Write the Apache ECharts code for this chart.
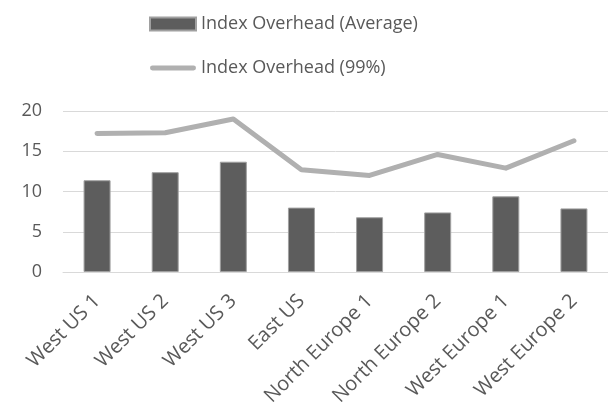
<!DOCTYPE html>
<html>
<head>
<meta charset="utf-8">
<script src="https://cdn.jsdelivr.net/npm/echarts@6/dist/echarts.min.js"></script>
<style>
  html,body{margin:0;padding:0;background:#fff;}
  #chartsBox{width:608px;height:410px;}
</style>
</head>
<body>
<div id="chartsBox"></div>
<script>
var regions = ['West US 1','West US 2','West US 3','East US','North Europe 1','North Europe 2','West Europe 1','West Europe 2'];
var avgData = [11.4, 12.4, 13.7, 8.0, 6.8, 7.4, 9.4, 7.9];
var p99Data = [17.2, 17.3, 19.0, 12.7, 12.0, 14.6, 12.9, 16.3];
var yTicks = [0, 5, 10, 15, 20];

var fontName = '"Open Sans", sans-serif';
var textColor = '#595959';
//图例里的粗线
var lineIcon = 'path://M2.5,0 H44.5 A2.5,2.5 0 0 1 44.5,5 H2.5 A2.5,2.5 0 0 1 2.5,0 Z';

var chartsBox = echarts.init(document.getElementById('chartsBox'));
var option = {
    animation: false,
    textStyle: {fontFamily: fontName, color: textColor},
    legend: {
        orient: 'vertical',
        left: 144,
        top: 10,
        itemWidth: 46,
        itemHeight: 13,
        itemGap: 26,
        textStyle: {fontFamily: fontName, fontSize: 18, lineHeight: 18, color: textColor},
        data: [
            {name: 'Index Overhead (Average)', icon: 'rect'},
            {name: 'Index Overhead (99%)', icon: lineIcon}
        ]
    },
    grid: {left: 63, right: 0, top: 111, bottom: 138},
    xAxis: {
        type: 'category',
        data: regions,
        axisTick: {show: false},
        axisLine: {lineStyle: {color: '#d9d9d9', width: 1}},
        axisLabel: {
            rotate: 45,
            interval: 0,
            fontSize: 20,
            color: textColor,
            fontFamily: fontName,
            margin: 26
        }
    },
    yAxis: {
        type: 'value',
        min: yTicks[0],
        max: yTicks[yTicks.length - 1],
        interval: 5,
        axisLine: {show: false},
        axisTick: {show: false},
        splitLine: {lineStyle: {color: '#d9d9d9', width: 1}},
        axisLabel: {fontSize: 18, color: textColor, fontFamily: fontName, margin: 21}
    },
    series: [{
        name: 'Index Overhead (Average)',
        type: 'bar',
        barWidth: 27,
        itemStyle: {color: '#5d5d5d', borderColor: '#a0a0a0', borderWidth: 1},
        data: avgData
    }, {
        name: 'Index Overhead (99%)',
        type: 'line',
        symbol: 'none',
        itemStyle: {color: '#b0b0b0'},
        lineStyle: {color: '#b0b0b0', width: 5, cap: 'round', join: 'round'},
        data: p99Data
    }]
};
chartsBox.setOption(option);
</script>
</body>
</html>
